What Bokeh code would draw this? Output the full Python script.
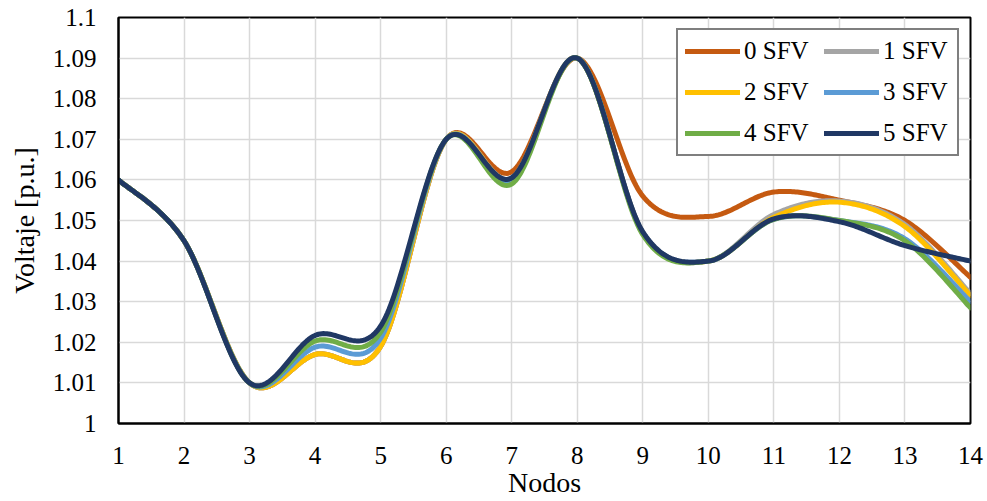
import numpy as np
from bokeh.plotting import figure
from bokeh.models import FixedTicker, CustomJSTickFormatter, Range1d, Legend, LegendItem
from bokeh.embed import file_html
from bokeh.resources import INLINE

nodes = [1, 2, 3, 4, 5, 6, 7, 8, 9, 10, 11, 12, 13, 14]
sfv0 = [1.060, 1.045, 1.010, 1.017, 1.019, 1.070, 1.062, 1.090, 1.056, 1.051, 1.057, 1.055, 1.050, 1.036]
sfv1 = [1.060, 1.045, 1.010, 1.017, 1.019, 1.070, 1.0605, 1.090, 1.047, 1.040, 1.0515, 1.0548, 1.049, 1.032]
sfv2 = [1.060, 1.045, 1.010, 1.017, 1.019, 1.070, 1.0603, 1.090, 1.047, 1.040, 1.0508, 1.0545, 1.0485, 1.0315]
sfv3 = [1.060, 1.045, 1.010, 1.0188, 1.021, 1.070, 1.060, 1.090, 1.047, 1.040, 1.0503, 1.050, 1.0455, 1.030]
sfv4 = [1.060, 1.045, 1.010, 1.0203, 1.0225, 1.070, 1.059, 1.090, 1.0465, 1.040, 1.0503, 1.050, 1.045, 1.0285]
sfv5 = [1.060, 1.045, 1.010, 1.0217, 1.024, 1.070, 1.0605, 1.090, 1.0472, 1.040, 1.0504, 1.0497, 1.0438, 1.040]
series_names = ["0 SFV", "1 SFV", "2 SFV", "3 SFV", "4 SFV", "5 SFV"]
series_colors = ["#C55A11", "#A5A5A5", "#FFC000", "#5B9BD5", "#70AD47", "#203864"]
y_ticks = [1.0, 1.01, 1.02, 1.03, 1.04, 1.05, 1.06, 1.07, 1.08, 1.09, 1.1]
x_ticks = nodes


def smooth(xv, yv, n=40):
    x = np.asarray(xv, float)
    y = np.asarray(yv, float)
    N = len(x)
    xs, ys = [], []
    for i in range(N - 1):
        p0 = np.array([x[i - 1], y[i - 1]]) if i > 0 else np.array([x[i], y[i]])
        p1 = np.array([x[i], y[i]])
        p2 = np.array([x[i + 1], y[i + 1]])
        p3 = np.array([x[i + 2], y[i + 2]]) if i + 2 < N else p2
        c1 = p1 + (p2 - p0) / 6.0
        c2 = p2 - (p3 - p1) / 6.0
        t = np.linspace(0, 1, n)[:, None]
        pts = ((1 - t) ** 3) * p1 + 3 * ((1 - t) ** 2) * t * c1 + 3 * (1 - t) * t ** 2 * c2 + t ** 3 * p2
        if i > 0:
            pts = pts[1:]
        xs.extend(pts[:, 0])
        ys.extend(pts[:, 1])
    return xs, ys


FONT = "Liberation Serif"

p = figure(width=985, height=501, output_backend="svg", toolbar_location=None,
           x_range=Range1d(1, 14), y_range=Range1d(1.0, 1.1),
           min_border_left=118, min_border_right=15, min_border_top=17, min_border_bottom=78)
p.background_fill_color = "white"
p.border_fill_color = "white"
p.outline_line_color = "black"
p.outline_line_width = 2

p.xgrid.ticker = FixedTicker(ticks=x_ticks)
p.ygrid.ticker = FixedTicker(ticks=y_ticks)
p.xgrid.grid_line_color = "#D9D9D9"
p.ygrid.grid_line_color = "#D9D9D9"
p.xgrid.grid_line_width = 1.5
p.ygrid.grid_line_width = 1.5

p.xaxis.ticker = FixedTicker(ticks=x_ticks)
p.yaxis.ticker = FixedTicker(ticks=y_ticks)
p.yaxis.formatter = CustomJSTickFormatter(code="return tick.toFixed(2).replace(/0+$/, '').replace(/\\.$/, '');")

for ax in (p.xaxis[0], p.yaxis[0]):
    ax.axis_line_color = "black"
    ax.axis_line_width = 2
    ax.major_tick_line_color = None
    ax.minor_tick_line_color = None
    ax.major_tick_out = 0
    ax.major_tick_in = 0
    ax.minor_tick_out = 0
    ax.major_label_text_font = FONT
    ax.major_label_text_font_size = "25px"
    ax.major_label_text_color = "black"
    ax.axis_label_text_font = FONT
    ax.axis_label_text_font_size = "28px"
    ax.axis_label_text_font_style = "normal"
    ax.axis_label_text_color = "black"

p.xaxis.axis_label = "Nodos"
p.yaxis.axis_label = "Voltaje [p.u.]"
p.xaxis.major_label_standoff = 23
p.xaxis.axis_label_standoff = 0
p.yaxis.major_label_standoff = 22
p.yaxis.axis_label_standoff = 10

items = []
for name, col, vals in zip(series_names, series_colors, [sfv0, sfv1, sfv2, sfv3, sfv4, sfv5]):
    xs, ys = smooth(nodes, vals)
    r = p.line(xs, ys, line_color=col, line_width=5, line_cap="round", line_join="round")
    items.append(LegendItem(label=name, renderers=[r]))

legend = Legend(items=items, location="top_right", orientation="horizontal", ncols=2,
                label_text_font=FONT, label_text_font_size="25px", label_text_color="black",
                glyph_width=55, glyph_height=24, label_height=24, label_width=67, label_standoff=4,
                spacing=13, padding=7, margin=11,
                border_line_color="black", border_line_width=2,
                background_fill_color="white", background_fill_alpha=1.0)
p.add_layout(legend)

open("out.html", "w").write(file_html(p, INLINE))
